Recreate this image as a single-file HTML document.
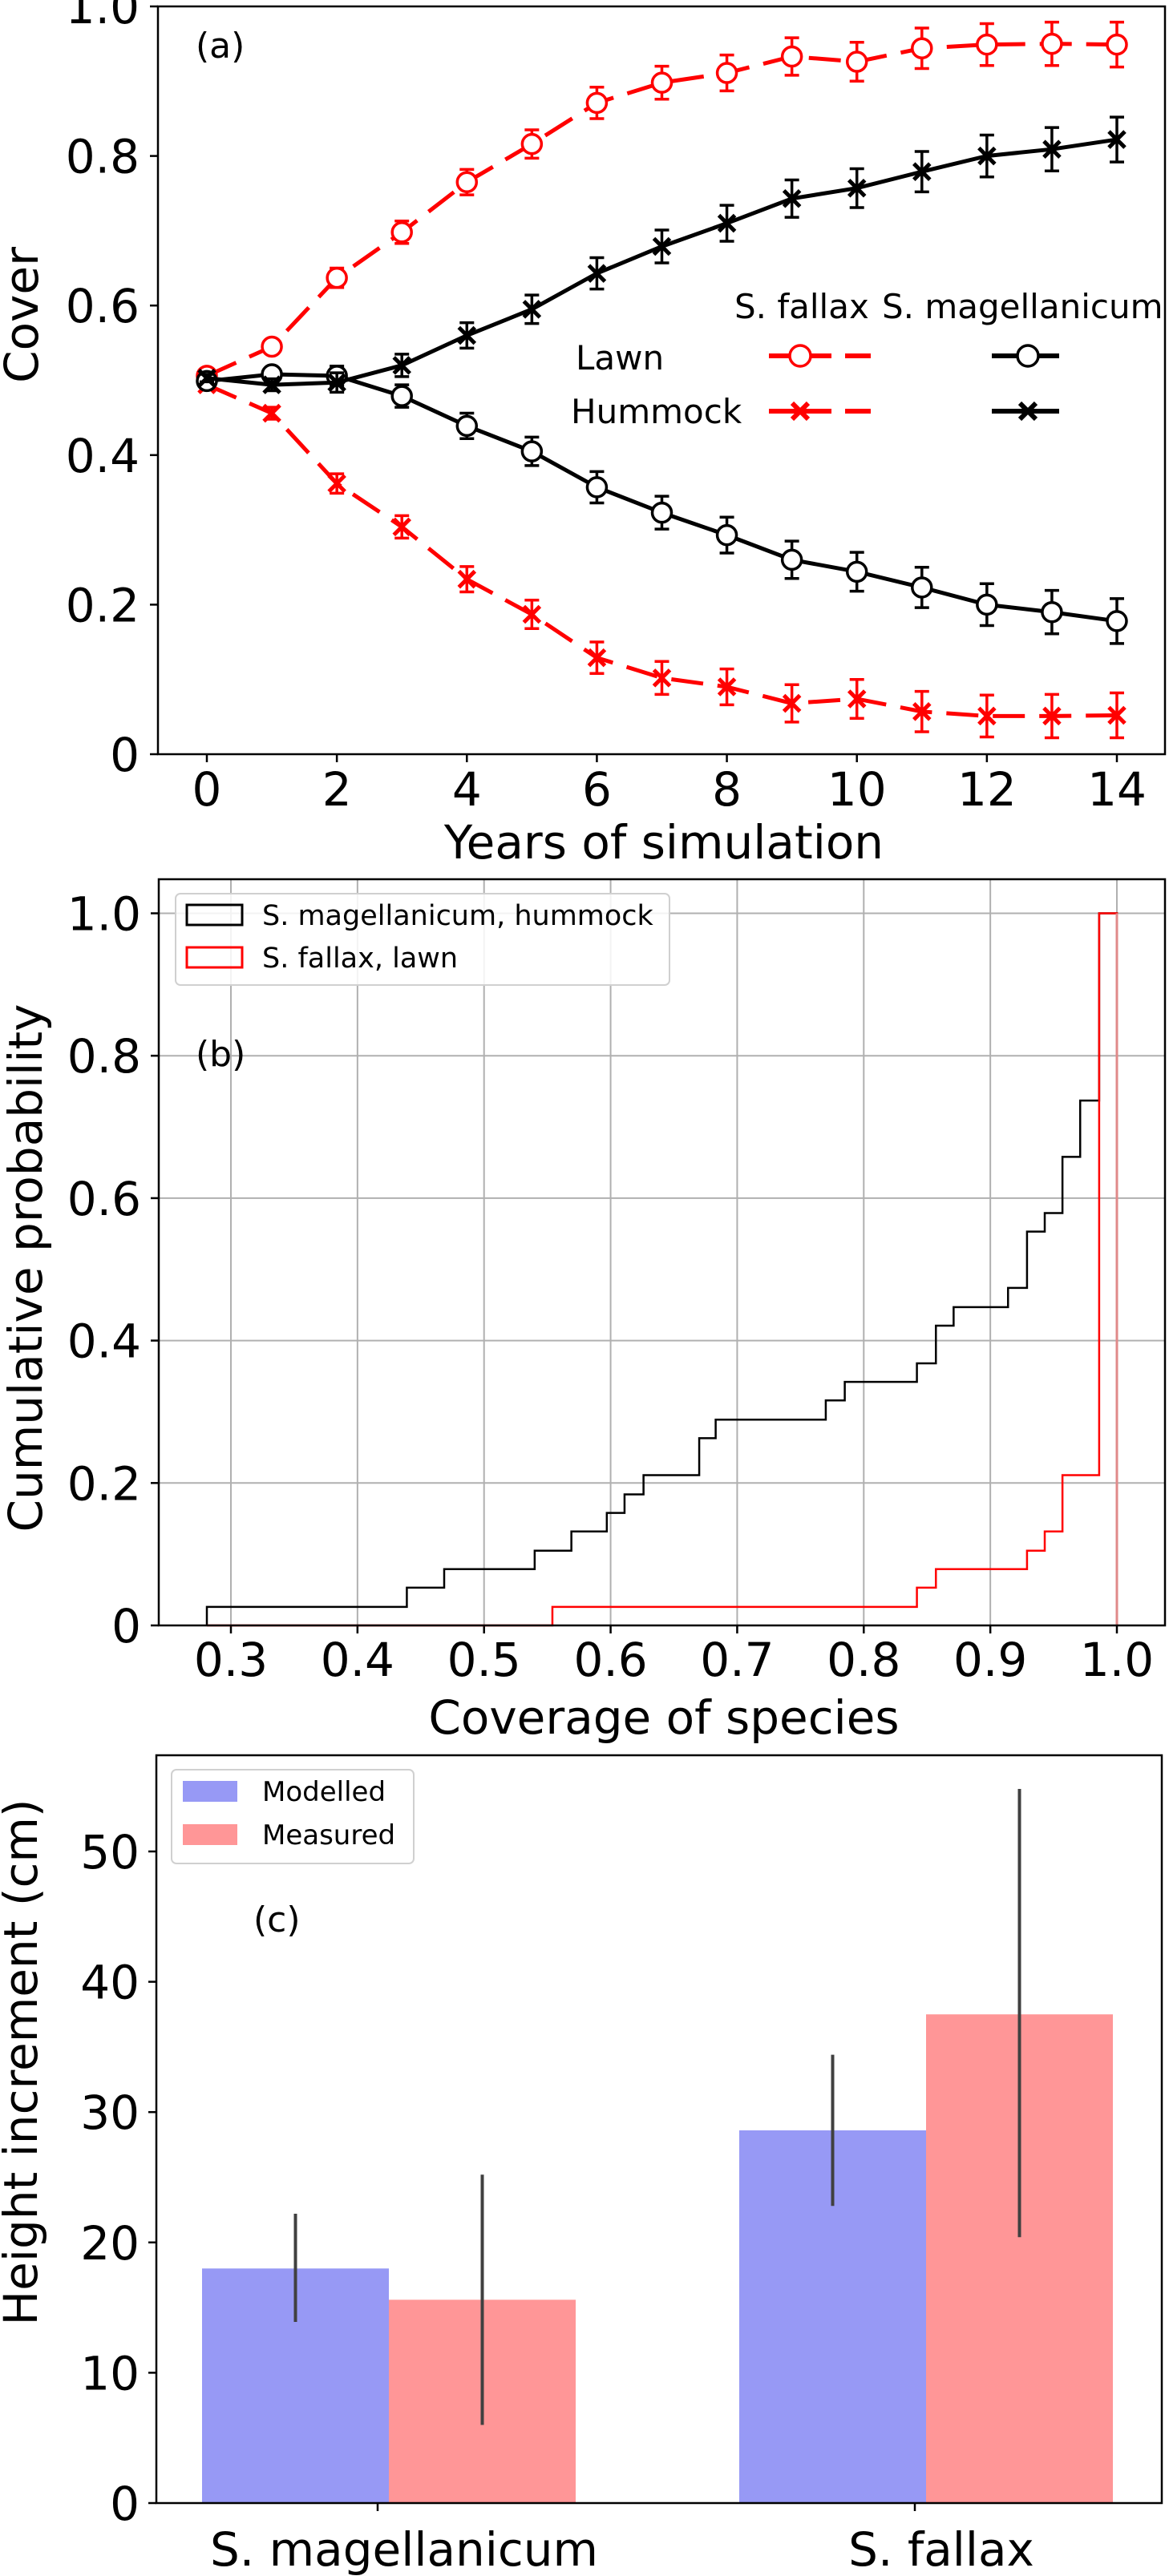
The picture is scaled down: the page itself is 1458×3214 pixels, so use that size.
<!DOCTYPE html>
<html><head><meta charset="utf-8"><style>
html,body{margin:0;padding:0;background:#fff}
svg{display:block}
text{font-family:"DejaVu Sans","Liberation Sans",sans-serif;fill:#000}
</style></head><body>
<svg id="fig" width="1458" height="3214" viewBox="0 0 1458 3214">
<g id="pa"></g>
<g id="pb"></g>
<g id="pc"></g>
</svg>
<script>
// ---------- Panel (a) data ----------
const years = [0,1,2,3,4,5,6,7,8,9,10,11,12,13,14];
const fallaxLawn = [0.506,0.545,0.637,0.698,0.765,0.816,0.871,0.898,0.911,0.933,0.926,0.944,0.949,0.950,0.949];
const fallaxHummock = [0.494,0.456,0.362,0.304,0.234,0.187,0.129,0.102,0.090,0.068,0.074,0.057,0.051,0.051,0.052];
const magLawn = [0.499,0.508,0.506,0.479,0.439,0.405,0.357,0.323,0.293,0.260,0.244,0.223,0.200,0.190,0.178];
const magHummock = [0.503,0.494,0.497,0.520,0.560,0.595,0.643,0.679,0.710,0.743,0.757,0.779,0.800,0.809,0.822];
const coverErr = [0.005,0.008,0.013,0.015,0.017,0.019,0.021,0.022,0.024,0.025,0.026,0.027,0.028,0.029,0.030];
const aYTicks = [0,0.2,0.4,0.6,0.8,1.0];
const aYTickLabels = ["0","0.2","0.4","0.6","0.8","1.0"];
const aXTicks = [0,2,4,6,8,10,12,14];

// ---------- Panel (b) data ----------
const magStepX = [0.281,0.439,0.4685,0.540,0.569,0.597,0.611,0.626,0.670,0.683,0.770,0.785,0.842,0.857,0.871,0.914,0.929,0.943,0.957,0.971,0.986];
const magStepY = [0.026,0.053,0.079,0.105,0.132,0.158,0.184,0.211,0.263,0.289,0.316,0.342,0.368,0.421,0.447,0.474,0.553,0.579,0.658,0.737,1.0];
const fallaxStepX = [0.281,0.554,0.842,0.857,0.929,0.943,0.957,0.986];
const fallaxStepY = [0,0.026,0.053,0.079,0.105,0.132,0.211,1.0];
const bXTicks = [0.3,0.4,0.5,0.6,0.7,0.8,0.9,1.0];
const bXTickLabels = ["0.3","0.4","0.5","0.6","0.7","0.8","0.9","1.0"];
const bYTicks = [0,0.2,0.4,0.6,0.8,1.0];
const bYTickLabels = ["0","0.2","0.4","0.6","0.8","1.0"];

// ---------- Panel (c) data ----------
const species = ["S. magellanicum","S. fallax"];
const modelled = [18.0,28.6];
const modelledLo = [13.9,22.8];
const modelledHi = [22.2,34.4];
const measured = [15.6,37.5];
const measuredLo = [6.0,20.4];
const measuredHi = [25.2,54.8];
const cYTicks = [0,10,20,30,40,50];

const NS="http://www.w3.org/2000/svg";
function mk(parent,tag,attrs,txt){const e=document.createElementNS(NS,tag);for(const k in attrs)e.setAttribute(k,attrs[k]);if(txt!==undefined)e.textContent=txt;parent.appendChild(e);return e;}

// ===== Panel A =====
(function(){
const g=document.getElementById('pa');
const L=197,R=1453,T=8,B=941;
const xa=v=>258+(v-0)*(1393-258)/14;
const ya=v=>941-v*(941-8);
let e;
e=mk(g,'rect',{x:L,y:T,width:R-L,height:B-T,fill:'none',stroke:'#000','stroke-width':2.5});


aYTicks.forEach((v,i)=>{
 e=mk(g,'line',{x1:L-10,x2:L,y1:ya(v),y2:ya(v),stroke:'#000','stroke-width':2.5});
 
 
 e=mk(g,'text',{x:174,y:ya(v)+21,'font-size':58,'text-anchor':'end'},aYTickLabels[i]);
 
 
});
aXTicks.forEach(v=>{
 e=mk(g,'line',{x1:xa(v),x2:xa(v),y1:B,y2:B+10,stroke:'#000','stroke-width':2.5});
 
 
 e=mk(g,'text',{x:xa(v),y:1005,'font-size':58,'text-anchor':'middle'},String(v));
 
 
});
e=mk(g,'text',{x:828,y:1071,'font-size':58,'text-anchor':'middle'},'Years of simulation');


e=mk(g,'text',{x:0,y:0,'font-size':58,'text-anchor':'middle',transform:'translate(47,393) rotate(-90)'},'Cover');


e=mk(g,'text',{x:244,y:72,'font-size':44},'(a)');



function series(vals,color,dashed,marker,name){
 const sg=mk(g,'g',{});
 
 
 const pts=years.map((x,i)=>xa(x)+','+ya(vals[i])).join(' ');
 const pl=mk(sg,'polyline',{points:pts,fill:'none',stroke:color,'stroke-width':5,'stroke-dasharray':dashed?'40 18':'none'});
 
 
 years.forEach((x,i)=>{
  const cx=xa(x),cy=ya(vals[i]),d=coverErr[i]*(941-8);
  let m=mk(sg,'path',{d:`M${cx},${cy-d}V${cy+d}M${cx-9},${cy-d}H${cx+9}M${cx-9},${cy+d}H${cx+9}`,stroke:color,'stroke-width':3.5,fill:'none'});
  
  
  if(marker==='o'){m=mk(sg,'circle',{cx:cx,cy:cy,r:12,fill:'#fff',stroke:color,'stroke-width':3.5});}
  else{m=mk(sg,'path',{d:`M${cx-10},${cy-10}L${cx+10},${cy+10}M${cx-10},${cy+10}L${cx+10},${cy-10}`,stroke:color,'stroke-width':5});}
  
  
 });
}
series(fallaxLawn,'#ff0000',true,'o','fallax-lawn-series');
series(fallaxHummock,'#ff0000',true,'x','fallax-hummock-series');
series(magLawn,'#000',false,'o','magellanicum-lawn-series');
series(magHummock,'#000',false,'x','magellanicum-hummock-series');

// legend
const lg=mk(g,'g',{});


e=mk(lg,'text',{x:916,y:397,'font-size':42},'S. fallax');


e=mk(lg,'text',{x:1100,y:397,'font-size':42},'S. magellanicum');


e=mk(lg,'text',{x:718,y:461,'font-size':42},'Lawn');


e=mk(lg,'text',{x:712,y:528,'font-size':42},'Hummock');


[[444,'o'],[513,'x']].forEach(([yy,mkr])=>{
 e=mk(lg,'path',{d:`M959,${yy}H1037M1054,${yy}H1086`,stroke:'#ff0000','stroke-width':6});
 
 
 e=mk(lg,'path',{d:`M1237,${yy}H1321`,stroke:'#000','stroke-width':6});
 
 
 [[998,'#ff0000'],[1282,'#000']].forEach(([cx,c])=>{
  if(mkr==='o')e=mk(lg,'circle',{cx:cx,cy:yy,r:13,fill:'#fff',stroke:c,'stroke-width':3.5});
  else e=mk(lg,'path',{d:`M${cx-10},${yy-10}L${cx+10},${yy+10}M${cx-10},${yy+10}L${cx+10},${yy-10}`,stroke:c,'stroke-width':6});
  
  
 });
});
})();

// ===== Panel B =====
(function(){
const g=document.getElementById('pb');
const L=198,R=1453,T=1097,B=2028;
const xb=v=>288+(v-0.3)*(1393-288)/0.7;
const yb=v=>2028-v*(2028-1139.5);
let e;
bXTicks.forEach((v,i)=>{
 e=mk(g,'line',{x1:xb(v),x2:xb(v),y1:T,y2:B,stroke:'#b0b0b0','stroke-width':2});
 
 
 e=mk(g,'line',{x1:xb(v),x2:xb(v),y1:B,y2:B+10,stroke:'#000','stroke-width':2.5});
 
 
 e=mk(g,'text',{x:xb(v),y:2091,'font-size':58,'text-anchor':'middle'},bXTickLabels[i]);
 
 
});
bYTicks.forEach((v,i)=>{
 e=mk(g,'line',{x1:L,x2:R,y1:yb(v),y2:yb(v),stroke:'#b0b0b0','stroke-width':2});
 
 
 e=mk(g,'line',{x1:L-10,x2:L,y1:yb(v),y2:yb(v),stroke:'#000','stroke-width':2.5});
 
 
 e=mk(g,'text',{x:176,y:yb(v)+21,'font-size':58,'text-anchor':'end'},bYTickLabels[i]);
 
 
});
function step(xs,ys,color,name){
 let d=`M${xb(xs[0])},${yb(0)}`;
 for(let i=0;i<xs.length;i++){d+=`H${xb(xs[i])}V${yb(ys[i])}`;}
 d+=`H${xb(1.0)}V${yb(0)}`;
 e=mk(g,'path',{d:d,fill:'none',stroke:color,'stroke-width':2.5});
 
 
}
step(magStepX,magStepY,'#000','step-magellanicum-hummock');
step(fallaxStepX,fallaxStepY,'#ff0000','step-fallax-lawn');
e=mk(g,'line',{x1:xb(1.0),x2:xb(1.0),y1:yb(1),y2:yb(0),stroke:'#e08a8a','stroke-width':3});


e=mk(g,'rect',{x:L,y:T,width:R-L,height:B-T,fill:'none',stroke:'#000','stroke-width':2.5});


e=mk(g,'text',{x:244,y:1330,'font-size':44},'(b)');


e=mk(g,'text',{x:0,y:0,'font-size':58,'text-anchor':'middle',transform:'translate(52,1582) rotate(-90)'},'Cumulative probability');


e=mk(g,'text',{x:828,y:2163,'font-size':58,'text-anchor':'middle'},'Coverage of species');


const lg=mk(g,'g',{});


e=mk(lg,'rect',{x:219,y:1115,width:616,height:114,rx:6,fill:'#fff','fill-opacity':0.85,stroke:'#d0d0d0','stroke-width':2});


e=mk(lg,'rect',{x:233,y:1129,width:69,height:25,fill:'none',stroke:'#000','stroke-width':3});


e=mk(lg,'text',{x:327,y:1154,'font-size':35},'S. magellanicum, hummock');


e=mk(lg,'rect',{x:233,y:1182,width:69,height:25,fill:'none',stroke:'#ff0000','stroke-width':3});


e=mk(lg,'text',{x:327,y:1207,'font-size':35},'S. fallax, lawn');


})();

// ===== Panel C =====
(function(){
const g=document.getElementById('pc');
const L=195,R=1449,T=2190,B=3123;
const yc=v=>3123-v*16.26;
const catX=[471,1141];
const barW=233;
let e;
cYTicks.forEach(v=>{
 e=mk(g,'line',{x1:L-10,x2:L,y1:yc(v),y2:yc(v),stroke:'#000','stroke-width':2.5});
 
 
 e=mk(g,'text',{x:174,y:yc(v)+21,'font-size':58,'text-anchor':'end'},String(v));
 
 
});
species.forEach((s,i)=>{
 const c=catX[i]+14;
 e=mk(g,'rect',{x:c-barW,y:yc(modelled[i]),width:barW,height:yc(0)-yc(modelled[i]),fill:'#9799f5'});
 
 
 e=mk(g,'rect',{x:c,y:yc(measured[i]),width:barW,height:yc(0)-yc(measured[i]),fill:'#ff9697'});
 
 
 e=mk(g,'line',{x1:c-barW/2,x2:c-barW/2,y1:yc(modelledHi[i]),y2:yc(modelledLo[i]),stroke:'#404040','stroke-width':4});
 
 
 e=mk(g,'line',{x1:c+barW/2,x2:c+barW/2,y1:yc(measuredHi[i]),y2:yc(measuredLo[i]),stroke:'#404040','stroke-width':4});
 
 
 e=mk(g,'line',{x1:catX[i],x2:catX[i],y1:B,y2:B+10,stroke:'#000','stroke-width':2.5});
 
 
 e=mk(g,'text',{x:catX[i]+33,y:3201,'font-size':58,'text-anchor':'middle'},s);
 
 
});
e=mk(g,'rect',{x:L,y:T,width:R-L,height:B-T,fill:'none',stroke:'#000','stroke-width':2.5});


e=mk(g,'text',{x:316,y:2410,'font-size':44},'(c)');


e=mk(g,'text',{x:0,y:0,'font-size':58,'text-anchor':'middle',transform:'translate(46,2573) rotate(-90)'},'Height increment (cm)');


const lg=mk(g,'g',{});


e=mk(lg,'rect',{x:214,y:2208,width:302,height:117,rx:6,fill:'#fff',stroke:'#d0d0d0','stroke-width':2});


e=mk(lg,'rect',{x:228,y:2222,width:68,height:26,fill:'#9799f5'});


e=mk(lg,'text',{x:327,y:2247,'font-size':34},'Modelled');


e=mk(lg,'rect',{x:228,y:2276,width:68,height:26,fill:'#ff9697'});


e=mk(lg,'text',{x:327,y:2301,'font-size':34},'Measured');


})();
</script>
</body></html>
